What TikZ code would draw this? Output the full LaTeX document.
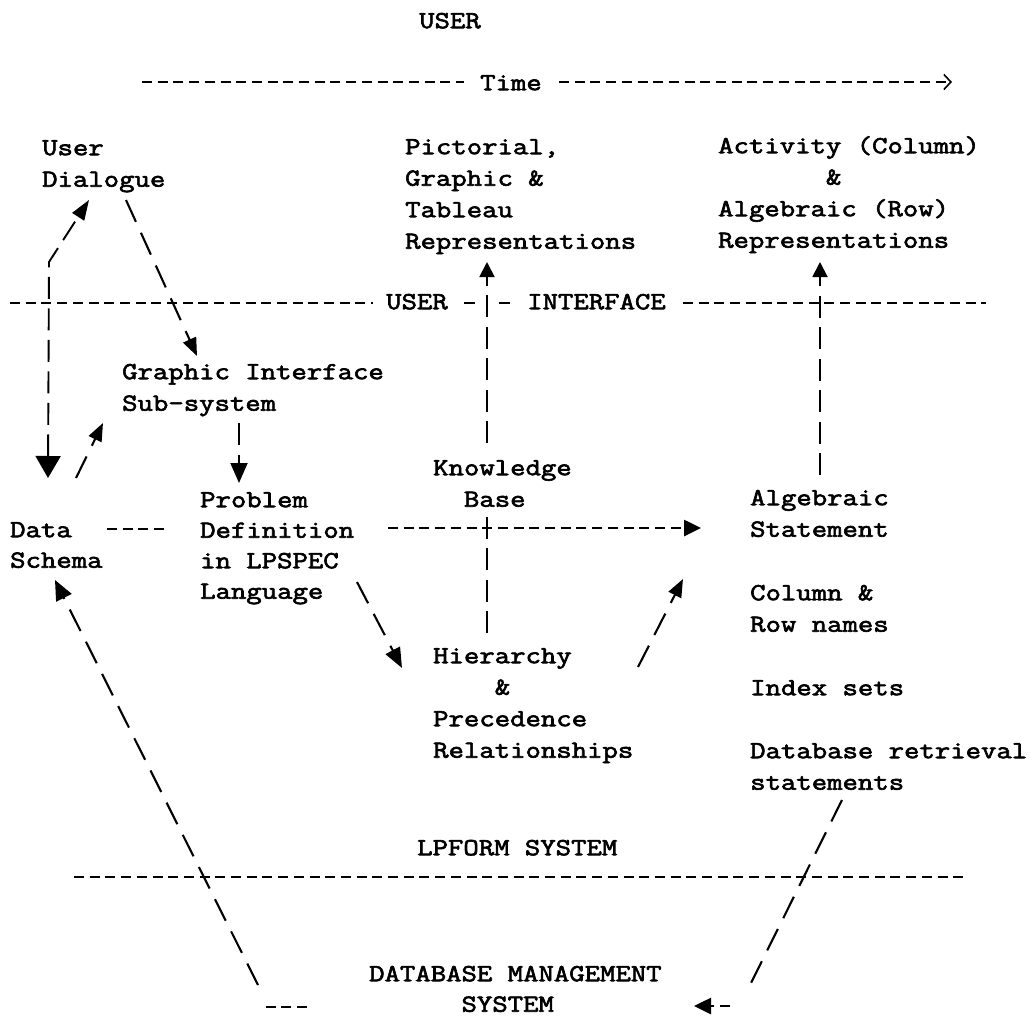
\documentclass[tikz,border=0pt]{standalone}
\usepackage{fontspec}
\newfontfamily\tw[FakeStretch=1.22,FakeBold=2.6]{Latin Modern Mono}
\usetikzlibrary{arrows.meta}
\newcommand\st{\rule{0pt}{24pt}}
\begin{document}
\begin{tikzpicture}[x=1pt,y=-1pt,
  txt/.style={anchor=north west, inner sep=0pt, align=left, font=\tw\fontsize{24.5pt}{31.5pt}\selectfont},
  txtb/.style={txt, font=\tw\fontsize{24.5pt}{30.5pt}\selectfont},
  hd/.style={line width=2.6pt, dash pattern=on 10pt off 5.7pt},
  hs/.style={line width=2.6pt},
  vd/.style={line width=1.9pt, dash pattern=on 22pt off 9.5pt},
  dd/.style={line width=2.1pt, dash pattern=on 24pt off 12pt},
]
\fill[white] (0,0) rectangle (1034,1017);
\useasboundingbox (0,0) rectangle (1034,1017);

% ---------- texts ----------
\node[txt] (userT) at (419,4) {\st USER};
\node[txt] (time) at (480,66) {\st Time};
\node[txt] (dia) at (42,131) {\st User\\Dialogue};
\node[txt] (pict) at (405,130) {\st Pictorial,\\Graphic \&\\Tableau\\Representations};
\node[txt] (act) at (718,129) {\st Activity (Column)\\\phantom{xxxxxxx}\&\\Algebraic (Row)\\Representations};
\node[txt] (uiU) at (386,285) {\st USER};
\node[txt] (uiI) at (527,285) {\st INTERFACE};
\node[txt] (gis) at (122,355) {\st Graphic Interface\\Sub-system};
\node[txt] (kb) at (433,451) {\st Knowledge\\\phantom{xx}Base};
\node[txtb] (prob) at (200,483) {\st Problem\\Definition\\in LPSPEC\\Language};
\node[txtb] (data) at (10,513) {\st Data\\Schema};
\node[txt] (alg) at (750,481) {\st Algebraic\\Statement};
\node[txt] (colrow) at (750,576) {\st Column \&\\Row names};
\node[txt] (idx) at (750,671) {\st Index sets};
\node[txt] (dbr) at (750,734) {\st Database retrieval\\statements};
\node[txt] (hier) at (433,639) {\st Hierarchy\\\phantom{xxxx}\&\\Precedence\\Relationships};
\node[txt] (lpf) at (417,831) {\st LPFORM SYSTEM};
\node[txtb] (dbms) at (369,957) {\st DATABASE MANAGEMENT\\\phantom{xxxxxx}SYSTEM};

% ---------- coordinates ----------
\coordinate (tl) at (142,82);   \coordinate (tlE) at (464,82);
\coordinate (trS) at (559,82);  \coordinate (tr) at (952,82);
\coordinate (ifA) at (10,303);  \coordinate (ifB) at (373,303);
\coordinate (ifC) at (464,303); \coordinate (ifD) at (475,303);
\coordinate (ifE) at (499,303); \coordinate (ifF) at (510,303);
\coordinate (ifG) at (683,303); \coordinate (ifH) at (986,303);
\coordinate (lpA) at (74,877);  \coordinate (lpB) at (968,877);

% ---------- separator lines ----------
\draw[hd, -{Straight Barb[length=7pt,width=15pt,line width=1.6pt]}] (trS) -- (tr);
\draw[hd] (tl) -- (tlE);
\draw[hd] (ifA) -- (ifB);
\draw[hs] (ifC) -- (ifD);
\draw[hs] (ifE) -- (ifF);
\draw[hd] (ifG) -- (ifH);
\draw[hd] (lpA) -- (lpB);

% ---------- connectors ----------
% Data Schema <-> User Dialogue
\coordinate (dsTop) at (48,478);
\coordinate (lcorner) at (49,262);
\coordinate (diaIn) at (89,200);
\draw[vd, {Triangle[length=22pt,width=25pt]}-{Triangle[length=20pt,width=14pt]}] (dsTop) -- (lcorner) -- (diaIn);
% User Dialogue -> Graphic Interface
\coordinate (diaOut) at (126,200);
\coordinate (gisIn) at (197,356);
\draw[dd, -{Triangle[length=18pt,width=14pt]}] (diaOut) -- (gisIn);
% Data Schema -> Graphic Interface
\coordinate (dsOut) at (76,478);
\coordinate (gisIn2) at (103,423);
\draw[dd, -{Triangle[length=18pt,width=14pt]}] (dsOut) -- (gisIn2);
% Graphic Interface -> Problem
\coordinate (gisOut) at (239,423);
\coordinate (probIn) at (239,483);
\draw[vd, -{Triangle[length=20pt,width=17pt]}] (gisOut) -- (probIn);
% Knowledge Base -> Pictorial
\coordinate (kbTop) at (487,443);
\coordinate (pictIn) at (487,262);
\draw[vd, -{Triangle[length=15pt,width=15pt]}] (kbTop) -- (pictIn);
% Hierarchy -- Knowledge Base
\coordinate (hierTop) at (487,633);
\coordinate (kbBot) at (487,517);
\draw[vd] (hierTop) -- (kbBot);
% Algebraic -> Activity
\coordinate (algTop) at (820,475);
\coordinate (actIn) at (820,262);
\draw[vd, -{Triangle[length=15pt,width=15pt]}] (algTop) -- (actIn);
% Data -- Problem
\coordinate (dpA) at (107,529);
\coordinate (dpB) at (167,529);
\draw[hd] (dpA) -- (dpB);
% Problem -> Algebraic
\coordinate (probOut) at (388,528);
\coordinate (algIn) at (701,528);
\draw[hd, -{Triangle[length=17pt,width=16pt]}] (probOut) -- (algIn);
% Problem -> Hierarchy
\coordinate (probOut2) at (357,582);
\coordinate (hierIn) at (402,668);
\draw[dd, -{Triangle[length=20pt,width=16pt]}] (probOut2) -- (hierIn);
% Hierarchy -> Algebraic
\coordinate (hierOut) at (638,667);
\coordinate (algIn2) at (683,579);
\draw[dd, -{Triangle[length=18pt,width=14pt]}] (hierOut) -- (algIn2);
% DBMS -> Data Schema
\coordinate (dbA) at (307,1007);
\coordinate (dbB) at (262,1007);
\coordinate (dbC) at (258,985);
\coordinate (dsIn) at (55,580);
\draw[hd] (dbA) -- (dbB);
\draw[dd, -{Triangle[length=20pt,width=17pt]}] (dbC) -- (dsIn);
% Database retrieval -> DBMS
\coordinate (drA) at (842,800);
\coordinate (drB) at (750,985);
\coordinate (drC) at (730,1006);
\coordinate (dbmsIn) at (694,1006);
\draw[dd] (drA) -- (drB);
\draw[hd, -{Triangle[length=17pt,width=16pt]}] (drC) -- (dbmsIn);
\end{tikzpicture}
\end{document}
